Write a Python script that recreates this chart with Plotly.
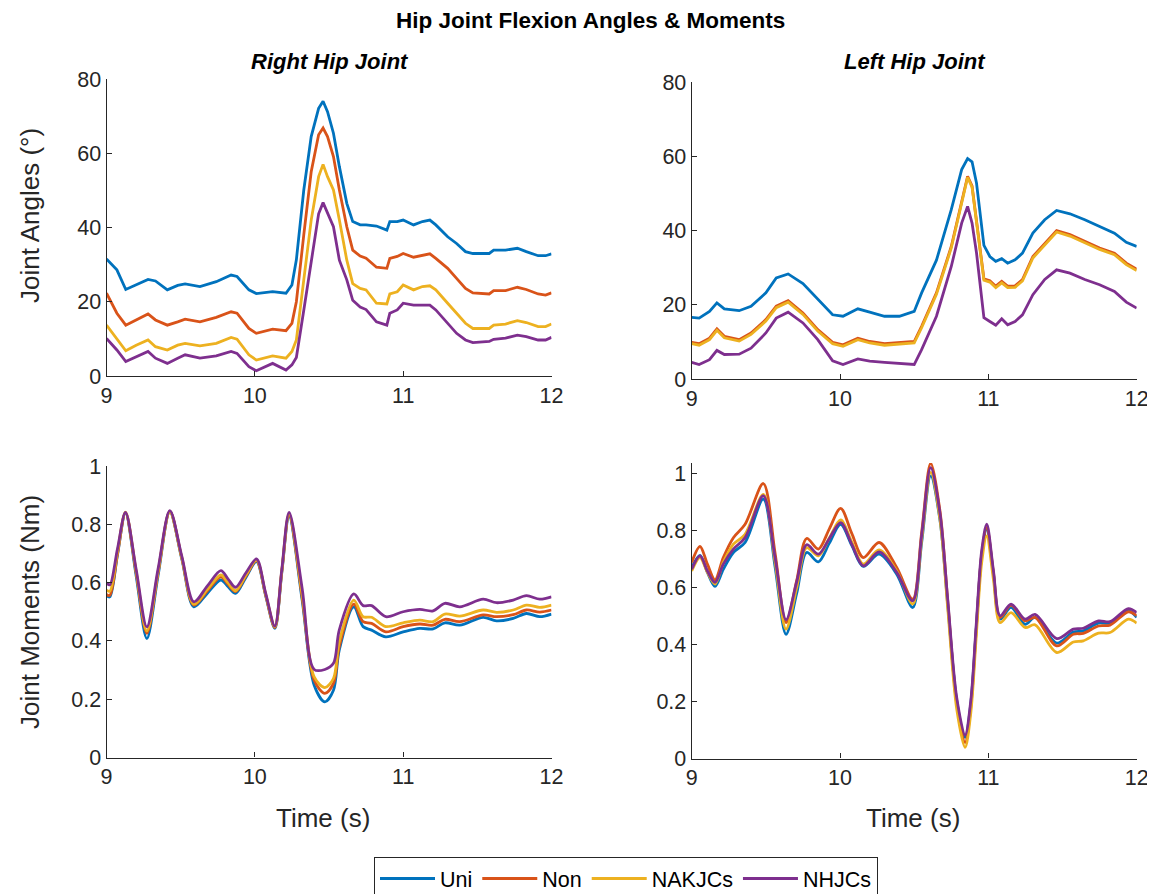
import plotly.graph_objects as go

# page has an 8px body margin, so the figure is sized to fit the 1155x894 window
OFF = 8
W, H = 1155 - OFF, 894 - OFF

series_names = ["Uni", "Non", "NAKJCs", "NHJCs"]
colors = ["#0072BD", "#D95319", "#EDB120", "#7E2F8E"]

# ---------------- Right hip angles (top-left) ----------------
t_right_angle = [9.00, 9.07, 9.13, 9.20, 9.28, 9.33, 9.41, 9.48, 9.53, 9.63,
                 9.74, 9.84, 9.88, 9.96, 10.01, 10.12, 10.21, 10.25, 10.28, 10.33,
                 10.38, 10.43, 10.46, 10.49, 10.53, 10.57, 10.62, 10.66, 10.71, 10.75,
                 10.82, 10.89, 10.91, 10.96, 11.00, 11.07, 11.13, 11.18, 11.22, 11.30,
                 11.36, 11.42, 11.47, 11.58, 11.61, 11.69, 11.77, 11.83, 11.91, 11.96,
                 12.00]
right_angle_uni = [31.5, 28.6, 23.3, 24.5, 26.0, 25.6, 23.2, 24.4, 24.8, 24.1,
                   25.4, 27.2, 26.8, 23.2, 22.2, 22.7, 22.3, 24.5, 31.3, 50.1,
                   64.5, 72.1, 74.0, 71.2, 65.4, 56.4, 46.5, 41.6, 40.7, 40.7,
                   40.4, 39.3, 41.6, 41.6, 42.0, 40.7, 41.6, 42.0, 40.7, 37.5,
                   35.7, 33.5, 33.0, 33.0, 33.9, 33.9, 34.4, 33.5, 32.4, 32.4,
                   32.9]
right_angle_non = [22.3, 16.9, 13.7, 15.1, 16.7, 15.1, 13.7, 14.6, 15.3, 14.6,
                   15.8, 17.3, 16.9, 12.8, 11.5, 12.6, 12.2, 14.2, 20.0, 38.0,
                   55.0, 65.0, 66.8, 64.5, 59.1, 50.1, 40.2, 33.9, 32.3, 31.7,
                   29.3, 29.0, 31.7, 32.2, 33.0, 32.0, 32.6, 32.9, 31.7, 29.0,
                   26.3, 23.6, 22.4, 22.1, 23.0, 23.0, 23.9, 23.3, 22.1, 21.8,
                   22.4]
right_angle_nakjc = [13.7, 10.1, 6.8, 8.3, 9.7, 7.9, 7.0, 8.3, 8.8, 8.1,
                     8.8, 10.4, 9.9, 5.7, 4.3, 5.4, 4.8, 6.6, 9.7, 25.9,
                     42.0, 53.7, 57.0, 53.7, 50.1, 42.0, 31.2, 24.9, 23.6, 23.2,
                     19.6, 19.4, 22.1, 22.7, 24.5, 23.2, 24.1, 24.3, 23.2, 19.6,
                     16.9, 14.2, 12.8, 12.8, 13.7, 14.0, 14.9, 14.4, 13.3, 13.3,
                     14.0]
right_angle_nhjc = [10.1, 7.0, 3.9, 5.2, 6.6, 4.8, 3.4, 4.8, 5.7, 4.8,
                    5.4, 6.6, 6.1, 2.5, 1.4, 3.4, 1.6, 3.0, 5.0, 17.7,
                    31.2, 43.7, 46.7, 43.7, 40.2, 31.2, 25.9, 20.4, 18.6, 17.9,
                    14.6, 13.7, 16.9, 17.8, 19.6, 19.1, 19.1, 19.1, 17.8, 14.2,
                    11.5, 9.7, 9.0, 9.3, 9.9, 10.2, 11.0, 10.6, 9.7, 9.7,
                    10.4]

# ---------------- Left hip angles (top-right) ----------------
t_left_angle = [9.00, 9.05, 9.12, 9.17, 9.22, 9.32, 9.40, 9.50, 9.57, 9.65,
                9.75, 9.85, 9.95, 10.02, 10.12, 10.20, 10.30, 10.40, 10.50, 10.55,
                10.65, 10.75, 10.82, 10.86, 10.89, 10.92, 10.97, 11.01, 11.05, 11.09,
                11.13, 11.18, 11.23, 11.30, 11.38, 11.46, 11.55, 11.65, 11.75, 11.85,
                11.93, 12.00]
left_angle_uni = [16.6, 16.4, 18.2, 20.5, 18.9, 18.4, 19.6, 23.2, 27.2, 28.3,
                  25.7, 21.4, 17.3, 16.9, 18.9, 18.0, 16.9, 16.9, 18.2, 23.2,
                  32.0, 45.6, 56.4, 59.4, 58.5, 52.8, 36.0, 33.0, 31.7, 32.4,
                  31.2, 32.1, 33.9, 39.3, 42.9, 45.4, 44.5, 42.9, 41.1, 39.3,
                  36.8, 35.7]
left_angle_non = [9.9, 9.5, 11.0, 13.5, 11.5, 10.6, 12.4, 16.0, 19.6, 21.1,
                  17.8, 13.3, 9.9, 9.2, 11.0, 10.1, 9.5, 9.7, 10.1, 14.2,
                  23.2, 35.7, 47.4, 54.6, 52.0, 43.0, 27.0, 26.5, 25.0, 26.3,
                  25.0, 25.1, 26.8, 33.0, 36.6, 40.0, 38.9, 37.1, 35.3, 33.9,
                  31.2, 29.6]
left_angle_nakjc = [9.5, 9.1, 10.6, 13.1, 11.1, 10.2, 12.0, 15.6, 19.2, 20.7,
                    17.4, 12.9, 9.5, 8.8, 10.6, 9.7, 9.1, 9.3, 9.7, 13.8,
                    22.8, 35.3, 47.0, 54.3, 51.7, 42.6, 26.6, 26.1, 24.6, 25.9,
                    24.6, 24.7, 26.4, 32.6, 36.2, 39.6, 38.5, 36.7, 34.9, 33.5,
                    30.8, 29.2]
left_angle_nhjc = [4.5, 3.9, 5.2, 7.7, 6.6, 6.7, 8.3, 12.4, 16.4, 18.0,
                   15.1, 10.6, 4.9, 3.9, 5.4, 4.8, 4.5, 4.3, 3.9, 7.9,
                   16.9, 30.3, 42.0, 46.5, 42.0, 34.0, 16.5, 15.5, 14.5, 16.2,
                   14.6, 15.5, 17.3, 22.7, 26.8, 29.4, 28.5, 26.8, 25.4, 23.6,
                   20.7, 19.1]

# ---------------- Right hip moments (bottom-left) ----------------
t_right_moment = [9.000, 9.022, 9.074, 9.128, 9.200, 9.272, 9.348, 9.427, 9.508, 9.589,
                  9.679, 9.771, 9.820, 9.870, 9.939, 10.011, 10.072, 10.135, 10.182, 10.231,
                  10.319, 10.400, 10.472, 10.530, 10.569, 10.667, 10.730, 10.787, 10.883, 11.000,
                  11.112, 11.202, 11.281, 11.382, 11.539, 11.629, 11.742, 11.831, 11.921, 12.000]
right_moment_uni = [0.555, 0.551, 0.695, 0.838, 0.623, 0.408, 0.625, 0.843, 0.680, 0.517,
                    0.563, 0.609, 0.586, 0.563, 0.617, 0.672, 0.557, 0.443, 0.635, 0.826,
                    0.540, 0.248, 0.191, 0.231, 0.368, 0.517, 0.449, 0.437, 0.414, 0.431,
                    0.443, 0.441, 0.462, 0.454, 0.481, 0.469, 0.477, 0.494, 0.483, 0.492]
right_moment_non = [0.559, 0.556, 0.698, 0.840, 0.633, 0.426, 0.635, 0.845, 0.684, 0.523,
                    0.571, 0.620, 0.594, 0.569, 0.622, 0.675, 0.560, 0.446, 0.639, 0.832,
                    0.550, 0.265, 0.220, 0.254, 0.380, 0.526, 0.466, 0.460, 0.431, 0.449,
                    0.458, 0.454, 0.474, 0.466, 0.489, 0.483, 0.490, 0.506, 0.499, 0.506]
right_moment_nakjc = [0.574, 0.570, 0.706, 0.842, 0.638, 0.434, 0.638, 0.842, 0.684, 0.526,
                      0.576, 0.626, 0.599, 0.572, 0.625, 0.677, 0.562, 0.448, 0.642, 0.836,
                      0.560, 0.277, 0.240, 0.271, 0.397, 0.540, 0.483, 0.481, 0.449, 0.462,
                      0.471, 0.466, 0.492, 0.485, 0.506, 0.498, 0.506, 0.523, 0.515, 0.523]
right_moment_nhjc = [0.600, 0.592, 0.716, 0.841, 0.645, 0.448, 0.648, 0.847, 0.690, 0.534,
                     0.588, 0.641, 0.612, 0.584, 0.633, 0.681, 0.566, 0.451, 0.646, 0.841,
                     0.580, 0.302, 0.302, 0.323, 0.437, 0.561, 0.521, 0.521, 0.483, 0.500,
                     0.508, 0.503, 0.529, 0.517, 0.543, 0.531, 0.540, 0.555, 0.543, 0.551]

# ---------------- Left hip moments (bottom-right) ----------------
t_left_moment = [9.000, 9.056, 9.106, 9.157, 9.213, 9.281, 9.360, 9.483, 9.562, 9.636,
                 9.708, 9.775, 9.854, 9.928, 10.004, 10.079, 10.157, 10.263, 10.382, 10.490,
                 10.551, 10.611, 10.674, 10.726, 10.787, 10.843, 10.881, 10.917, 10.955, 10.989,
                 11.034, 11.079, 11.153, 11.247, 11.315, 11.461, 11.573, 11.640, 11.742, 11.820,
                 11.944, 12.000]
left_moment_uni = [0.670, 0.713, 0.653, 0.604, 0.664, 0.723, 0.758, 0.910, 0.673, 0.436,
                   0.580, 0.723, 0.690, 0.756, 0.822, 0.748, 0.674, 0.717, 0.647, 0.530,
                   0.761, 0.992, 0.835, 0.539, 0.202, 0.074, 0.191, 0.448, 0.713, 0.805,
                   0.647, 0.489, 0.530, 0.471, 0.495, 0.405, 0.444, 0.448, 0.475, 0.475,
                   0.518, 0.495]
left_moment_non = [0.688, 0.744, 0.682, 0.627, 0.705, 0.775, 0.822, 0.965, 0.721, 0.477,
                   0.625, 0.772, 0.735, 0.806, 0.878, 0.790, 0.705, 0.758, 0.670, 0.559,
                   0.797, 1.036, 0.868, 0.553, 0.192, 0.056, 0.177, 0.443, 0.716, 0.811,
                   0.653, 0.495, 0.538, 0.483, 0.495, 0.395, 0.436, 0.439, 0.465, 0.468,
                   0.515, 0.501]
left_moment_nakjc = [0.658, 0.705, 0.653, 0.612, 0.688, 0.752, 0.787, 0.927, 0.690, 0.454,
                     0.600, 0.740, 0.711, 0.774, 0.837, 0.760, 0.682, 0.732, 0.658, 0.542,
                     0.773, 1.004, 0.839, 0.528, 0.173, 0.039, 0.158, 0.419, 0.688, 0.781,
                     0.629, 0.477, 0.512, 0.460, 0.469, 0.372, 0.409, 0.413, 0.440, 0.442,
                     0.489, 0.475]
left_moment_nhjc = [0.664, 0.711, 0.658, 0.618, 0.682, 0.735, 0.775, 0.922, 0.705, 0.487,
                    0.620, 0.750, 0.717, 0.772, 0.828, 0.752, 0.676, 0.725, 0.653, 0.553,
                    0.787, 1.021, 0.860, 0.558, 0.212, 0.082, 0.200, 0.461, 0.729, 0.822,
                    0.660, 0.501, 0.542, 0.489, 0.506, 0.421, 0.454, 0.457, 0.483, 0.480,
                    0.526, 0.512]

x_ticks = [9, 10, 11, 12]
angle_ticks = [0, 20, 40, 60, 80]
moment_ticks = [0, 0.2, 0.4, 0.6, 0.8, 1]

panels = [
    (t_right_angle, [right_angle_uni, right_angle_non, right_angle_nakjc, right_angle_nhjc], "linear"),
    (t_left_angle, [left_angle_uni, left_angle_non, left_angle_nakjc, left_angle_nhjc], "linear"),
    (t_right_moment, [right_moment_uni, right_moment_non, right_moment_nakjc, right_moment_nhjc], "spline"),
    (t_left_moment, [left_moment_uni, left_moment_non, left_moment_nakjc, left_moment_nhjc], "spline"),
]


def px(x):
    # window pixel -> paper fraction
    return (x - OFF) / W


def py(y):
    return 1 - (y - OFF) / H


# window-pixel boxes of the four plot areas: (left, right, top, bottom)
boxes = [
    (106.5, 551.5, 79.0, 376.0),
    (691.7, 1136.7, 82.0, 379.0),
    (106.5, 551.5, 466.0, 757.5),
    (691.7, 1136.7, 463.0, 758.5),
]
y_ranges = [[0, 80], [0, 80], [0, 1], [0, 1.037]]
y_tickvals = [angle_ticks, angle_ticks, moment_ticks, moment_ticks]

fig = go.Figure()
for i, (t, vals, shape) in enumerate(panels):
    for j, v in enumerate(vals):
        line = dict(color=colors[j], width=2.8, shape=shape)
        if shape == "spline":
            line["smoothing"] = 0.9
        fig.add_trace(go.Scatter(
            x=t, y=v, mode="lines", name=series_names[j], line=line,
            xaxis="x" if i == 0 else f"x{i+1}",
            yaxis="y" if i == 0 else f"y{i+1}",
            showlegend=(i == 0), hoverinfo="skip"))

axis_color = "#262626"
font_family = "Liberation Sans, Arial, sans-serif"
layout = dict(
    width=W, height=H, autosize=False,
    margin=dict(l=0, r=0, t=0, b=0, pad=0, autoexpand=False),
    paper_bgcolor="white", plot_bgcolor="white",
    font=dict(family=font_family, color=axis_color),
    legend=dict(orientation="h", x=px(626), xanchor="center", y=py(857), yanchor="top",
                bordercolor=axis_color, borderwidth=1, bgcolor="white",
                font=dict(size=21.5, color="black"), itemwidth=55, tracegroupgap=0),
)
for i, (l, r, tp, bt) in enumerate(boxes):
    sx = "" if i == 0 else str(i + 1)
    layout["xaxis" + sx] = dict(
        domain=[px(l), px(r)], anchor="y" + sx, range=[9, 12],
        tickvals=x_ticks, ticktext=[str(v) for v in x_ticks],
        showline=True, linecolor=axis_color, linewidth=1.2, mirror=False,
        ticks="inside", ticklen=5, tickcolor=axis_color, tickwidth=1,
        showgrid=False, zeroline=False, automargin=False,
        tickfont=dict(size=21.5, color=axis_color))
    layout["yaxis" + sx] = dict(
        domain=[py(bt), py(tp)], anchor="x" + sx, range=y_ranges[i],
        tickvals=y_tickvals[i], ticktext=[f"{v:g}" for v in y_tickvals[i]],
        showline=True, linecolor=axis_color, linewidth=1.2, mirror=False,
        ticks="inside", ticklen=5, tickcolor=axis_color, tickwidth=1,
        showgrid=False, zeroline=False, automargin=False,
        tickfont=dict(size=21.5, color=axis_color))
fig.update_layout(**layout)

annotations = [
    dict(text="<b>Hip Joint Flexion Angles &amp; Moments</b>", x=px(590), y=py(20),
         font=dict(size=22.5, color="black")),
    dict(text="<b><i>Right Hip Joint</i></b>", x=px(330), y=py(62),
         font=dict(size=22, color="black")),
    dict(text="<b><i>Left Hip Joint</i></b>", x=px(915), y=py(62),
         font=dict(size=22, color="black")),
    dict(text="Joint Angles (°)", x=px(30), y=py(216), textangle=-90,
         font=dict(size=26, color=axis_color)),
    dict(text="Joint Moments (Nm)", x=px(30), y=py(612), textangle=-90,
         font=dict(size=26, color=axis_color)),
    dict(text="Time (s)", x=px(323), y=py(818), font=dict(size=26, color=axis_color)),
    dict(text="Time (s)", x=px(913), y=py(818), font=dict(size=26, color=axis_color)),
]
for a in annotations:
    a.update(xref="paper", yref="paper", showarrow=False, xanchor="center", yanchor="middle")
fig.update_layout(annotations=annotations)

fig.write_html("out.html")
